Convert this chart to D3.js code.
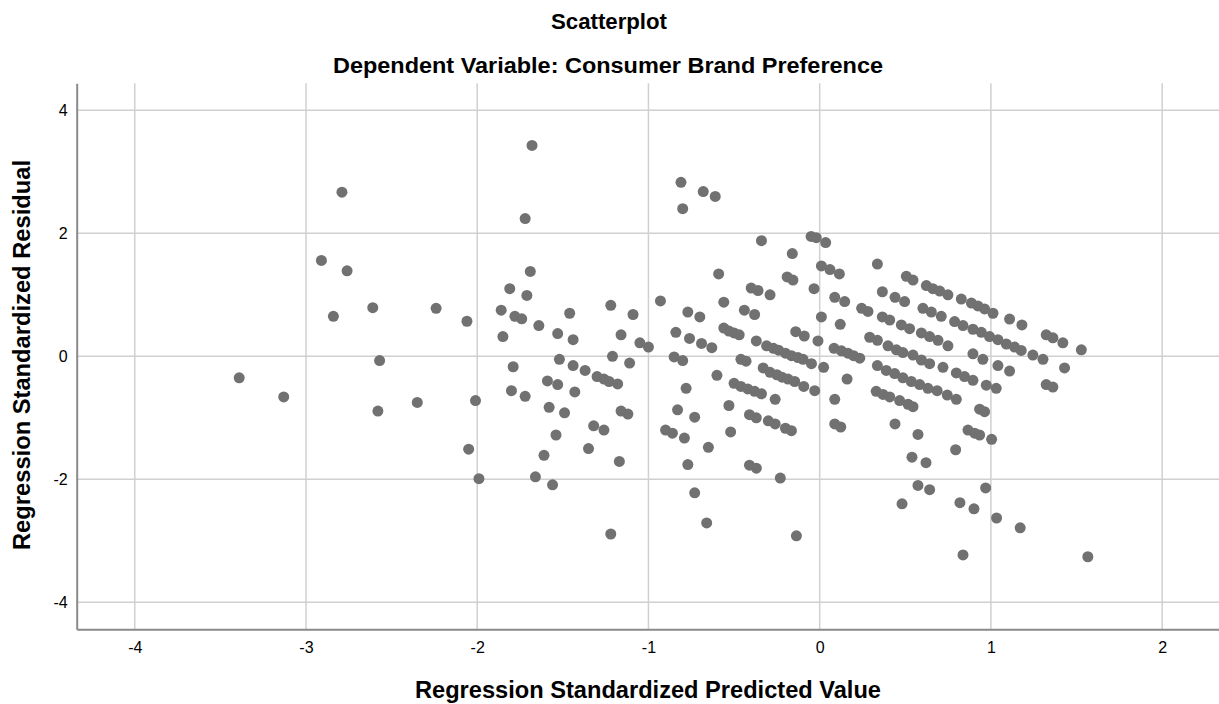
<!DOCTYPE html>
<html><head><meta charset="utf-8">
<script src="https://cdn.jsdelivr.net/npm/d3@7"></script>
<style>
html,body{margin:0;padding:0;background:#fff;}
svg text{font-family:Arial,"Liberation Sans",sans-serif;}
</style></head>
<body>
<svg id="chart" width="1219" height="704"></svg>
<script>
const chartTitle = "Scatterplot";
const chartSubtitle = "Dependent Variable: Consumer Brand Preference";
const xAxisTitle = "Regression Standardized Predicted Value";
const yAxisTitle = "Regression Standardized Residual";
const xTicks = [-4, -3, -2, -1, 0, 1, 2];
const yTicks = [-4, -2, 0, 2, 4];

const predicted = [
-3.39,-3.13,-2.91,-2.79,-2.76,-2.84,-2.61,-2.57,-2.58,-2.35,-2.24,-2.06,-2.05,-2.01,-1.99,-1.86,-1.85,-1.81,-1.79,-1.80,
-1.78,-1.74,-1.72,-1.71,-1.72,-1.69,-1.68,-1.66,-1.64,-1.61,-1.59,-1.58,-1.56,-1.54,-1.53,-1.53,-1.52,-1.49,-1.46,-1.44,
-1.44,-1.43,-1.37,-1.35,-1.32,-1.30,-1.26,-1.26,-1.23,-1.22,-1.22,-1.21,-1.18,-1.17,-1.16,-1.16,-1.12,-1.11,-1.09,-1.05,
-1.00,-0.93,-0.90,-0.86,-0.85,-0.84,-0.83,-0.81,-0.80,-0.80,-0.79,-0.78,-0.77,-0.77,-0.76,-0.73,-0.73,-0.70,-0.69,-0.68,
-0.66,-0.65,-0.63,-0.61,-0.60,-0.59,-0.56,-0.56,-0.53,-0.53,-0.52,-0.50,-0.50,-0.47,-0.46,-0.46,-0.44,-0.43,-0.42,-0.41,
-0.41,-0.40,-0.38,-0.38,-0.37,-0.37,-0.37,-0.36,-0.34,-0.34,-0.33,-0.31,-0.30,-0.29,-0.29,-0.27,-0.26,-0.26,-0.25,-0.24,
-0.23,-0.22,-0.20,-0.20,-0.19,-0.185,-0.165,-0.165,-0.16,-0.156,-0.146,-0.14,-0.136,-0.127,-0.097,-0.093,-0.09,-0.05,-0.02,-0.048,
-0.033,-0.029,-0.01,0.01,0.01,0.023,0.035,0.06,0.084,0.088,0.088,0.088,0.115,0.12,0.123,0.127,0.146,0.16,0.165,0.198,
0.234,0.245,0.282,0.292,0.33,0.337,0.337,0.337,0.366,0.366,0.37,0.389,0.399,0.409,0.409,0.44,0.44,0.438,0.448,0.467,
0.477,0.481,0.486,0.486,0.496,0.506,0.516,0.525,0.535,0.539,0.545,0.545,0.545,0.574,0.574,0.584,0.594,0.594,0.603,0.621,
0.623,0.632,0.642,0.642,0.642,0.652,0.661,0.686,0.691,0.701,0.71,0.72,0.745,0.749,0.749,0.788,0.794,0.798,0.798,0.819,
0.827,0.837,0.837,0.846,0.866,0.886,0.895,0.895,0.895,0.901,0.905,0.924,0.934,0.934,0.944,0.953,0.963,0.963,0.969,0.973,
0.992,1.004,1.012,1.031,1.033,1.041,1.041,1.09,1.109,1.109,1.138,1.171,1.177,1.181,1.245,1.304,1.323,1.323,1.362,1.362,
1.42,1.43,1.528,1.566
];
const residual = [
-0.35,-0.66,1.56,2.67,1.39,0.65,0.79,-0.07,-0.89,-0.75,0.78,0.57,-1.51,-0.72,-1.99,0.75,0.32,1.10,-0.17,-0.56,
0.65,0.61,2.24,0.99,-0.65,1.38,3.43,-1.96,0.50,-1.61,-0.40,-0.83,-2.09,-1.28,0.37,-0.46,-0.05,-0.92,0.70,0.27,
-0.15,-0.58,-0.23,-1.50,-1.13,-0.33,-0.37,-1.20,-0.41,0.83,-2.89,0.00,-0.45,-1.71,0.35,-0.89,-0.94,-0.11,0.68,0.22,
0.15,0.90,-1.20,-1.25,-0.01,0.39,-0.87,2.83,2.40,-0.07,-1.33,-0.52,-1.76,0.72,0.29,-0.99,-2.22,0.64,0.21,2.68,
-2.71,-1.48,0.14,2.60,-0.31,1.34,0.46,0.88,0.41,-0.80,-1.23,0.38,-0.44,0.35,-0.05,-0.49,0.75,-0.08,-0.53,-0.95,
-1.77,1.11,0.68,-0.57,0.25,-1.00,-1.82,1.07,1.88,-0.61,-0.19,0.17,-1.05,1.00,-0.26,0.13,-0.70,-1.10,-0.30,0.10,
-1.98,-0.34,0.05,-1.17,1.29,-0.37,0.01,-1.21,1.67,1.24,-0.41,0.40,-2.92,-0.02,-0.05,-0.49,0.33,1.95,1.93,-0.12,
1.10,-0.56,0.25,1.47,0.64,-0.18,1.85,1.41,0.13,0.96,-0.70,-1.10,1.34,0.52,-1.15,0.09,0.89,-0.37,0.05,0.01,
-0.03,0.78,0.73,0.31,-0.57,1.50,0.26,-0.15,1.05,0.64,-0.62,-0.23,0.17,0.59,-0.66,0.96,-1.10,-0.28,0.105,-0.72,
0.51,-2.40,0.06,-0.35,0.89,1.30,-0.78,0.45,-0.41,-1.64,1.24,0.02,-0.82,-1.27,-2.10,-0.46,0.38,-0.06,0.78,-1.73,
1.15,-0.52,0.32,-0.12,-2.17,0.72,1.10,-0.56,0.26,1.06,0.65,-0.18,-0.63,1.00,0.17,0.565,-1.52,-0.27,-0.70,-2.38,
0.93,0.50,-3.23,-0.33,-1.20,0.865,0.44,0.04,-0.39,-2.48,-1.25,0.82,-0.86,-1.28,0.39,-0.05,0.77,-0.90,-2.14,-0.47,
0.32,-1.35,0.70,-0.52,-2.63,0.27,-0.15,0.20,0.605,-0.24,0.15,-2.79,0.095,0.51,0.02,-0.05,0.35,-0.46,0.30,-0.50,
0.22,-0.19,0.105,-3.26
];

const svg = d3.select("#chart");
const plotLeft = 76.7, plotRight = 1219, plotTop = 83.3, plotBottom = 629.3;
const x = d3.scaleLinear().domain([-4.339, 2.332]).range([plotLeft, plotRight]);
const y = d3.scaleLinear().domain([-4.44, 4.44]).range([plotBottom, plotTop]);
const fmt = d => String(d); // plain hyphen-minus like the reference

// gridlines
svg.append("g").selectAll("line").data(xTicks).join("line")
  .attr("x1", d => x(d)).attr("x2", d => x(d)).attr("y1", plotTop).attr("y2", plotBottom)
  .attr("stroke", "#d0d0d0").attr("stroke-width", 1.5);
svg.append("g").selectAll("line").data(yTicks).join("line")
  .attr("x1", plotLeft).attr("x2", plotRight).attr("y1", d => y(d)).attr("y2", d => y(d))
  .attr("stroke", "#d0d0d0").attr("stroke-width", 1.5);

// axes
const xAxis = d3.axisBottom(x).tickValues(xTicks).tickSize(0).tickPadding(12).tickFormat(fmt);
const gx = svg.append("g").attr("transform", `translate(0,${plotBottom})`).call(xAxis);
gx.select(".domain").attr("stroke", "#8a8a8a").attr("stroke-width", 2);
gx.selectAll("text").attr("font-size", 16).attr("fill", "#000").attr("font-family", "Arial, 'Liberation Sans', sans-serif");

const yAxis = d3.axisLeft(y).tickValues(yTicks).tickSize(0).tickPadding(9).tickFormat(fmt);
const gy = svg.append("g").attr("transform", `translate(${plotLeft},0)`).call(yAxis);
gy.select(".domain").attr("stroke", "#8a8a8a").attr("stroke-width", 2);
gy.selectAll("text").attr("font-size", 16).attr("fill", "#000").attr("font-family", "Arial, 'Liberation Sans', sans-serif");

// points
const pts = predicted.map((p, i) => ({p, r: residual[i]}));
svg.append("g").selectAll("circle").data(pts).join("circle")
  .attr("cx", d => x(d.p)).attr("cy", d => y(d.r)).attr("r", 5.5)
  .attr("fill", "#717171");

// titles
svg.append("text").attr("x", 609).attr("y", 29).attr("text-anchor", "middle")
  .attr("font-size", 22).attr("font-weight", "bold")
  .attr("textLength", 116).attr("lengthAdjust", "spacingAndGlyphs").text(chartTitle);
svg.append("text").attr("x", 608).attr("y", 73).attr("text-anchor", "middle")
  .attr("font-size", 22).attr("font-weight", "bold")
  .attr("textLength", 550).attr("lengthAdjust", "spacingAndGlyphs").text(chartSubtitle);
svg.append("text").attr("x", 648).attr("y", 698).attr("text-anchor", "middle")
  .attr("font-size", 23).attr("font-weight", "bold")
  .attr("textLength", 466).attr("lengthAdjust", "spacingAndGlyphs").text(xAxisTitle);
svg.append("text").attr("transform", "translate(30,355) rotate(-90)").attr("text-anchor", "middle")
  .attr("font-size", 23).attr("font-weight", "bold")
  .attr("textLength", 390).attr("lengthAdjust", "spacingAndGlyphs").text(yAxisTitle);
</script>
</body></html>
